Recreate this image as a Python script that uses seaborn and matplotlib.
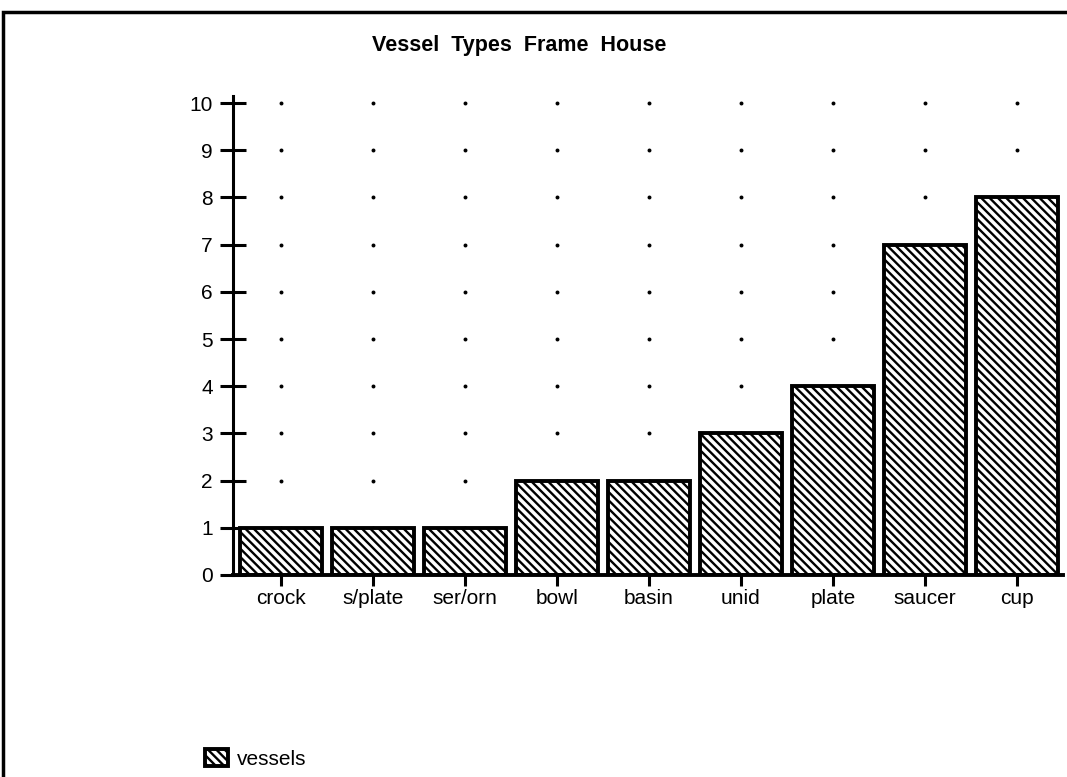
import numpy as np
import pandas as pd
import seaborn as sns
import matplotlib.pyplot as plt
from matplotlib.patches import Rectangle

categories = ['crock', 's/plate', 'ser/orn', 'bowl', 'basin', 'unid', 'plate', 'saucer', 'cup']
vessels = [1, 1, 1, 2, 2, 3, 4, 7, 8]
y_ticks = list(range(0, 11))

sns.set_theme(style="white")
plt.rcParams['font.family'] = ['Liberation Sans', 'DejaVu Sans']
plt.rcParams['text.color'] = 'black'
plt.rcParams['hatch.linewidth'] = 1.7

df = pd.DataFrame({'type': categories, 'vessels': vessels})

fig = plt.figure(figsize=(10.67, 7.77), dpi=100)
ax = fig.add_axes([233 / 1067, 202 / 777, 830 / 1067, 479 / 777])

# dotted grid: one dot per category per tick level
gx, gy = np.meshgrid(np.arange(len(categories)), y_ticks[1:])
ax.scatter(gx.ravel(), gy.ravel(), s=8, color='black', zorder=1, linewidths=0)

sns.barplot(data=df, x='type', y='vessels', ax=ax, color='white', width=0.89,
            edgecolor='black', linewidth=2.8, hatch='\\\\\\\\', label='vessels',
            zorder=2)

ax.set_xlim(-0.52, len(categories) - 0.5)
ax.set_ylim(0, 10.15)
ax.set_yticks(y_ticks)
ax.set_xlabel('')
ax.set_ylabel('')
for s in ['top', 'right']:
    ax.spines[s].set_visible(False)
ax.spines['left'].set_linewidth(2.2)
ax.spines['bottom'].set_linewidth(2.8)
ax.spines['left'].set_color('black')
ax.spines['bottom'].set_color('black')
ax.tick_params(axis='y', direction='inout', length=19, width=2.2, labelsize=15,
               colors='black', left=True, pad=5)
ax.tick_params(axis='x', direction='out', length=8, width=2.2, labelsize=15,
               colors='black', bottom=True, pad=2)

fig.text(0.487, 0.941, 'Vessel  Types  Frame  House', ha='center', va='center',
         fontsize=15.5, fontweight='bold', color='black')

ax.legend(loc='lower left', bbox_to_anchor=(197 / 1067, 0.0), bbox_transform=fig.transFigure,
          frameon=False, fontsize=15, handlelength=1.1, handleheight=0.85,
          handletextpad=0.4, borderaxespad=0)

# frame around the figure
fig.patches.append(Rectangle((3 / 1067, -0.05), 1.2, 1 - 12 / 777 + 0.05,
                             transform=fig.transFigure, fill=False,
                             edgecolor='black', linewidth=2.5))

plt.savefig('out.png', dpi=100)
